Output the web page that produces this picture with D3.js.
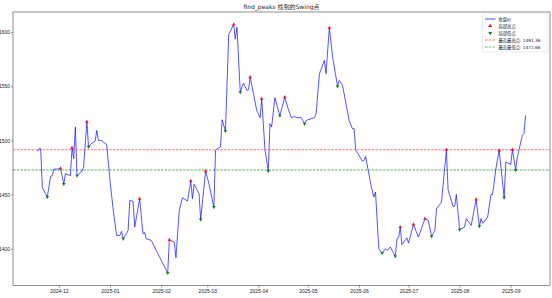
<!DOCTYPE html>
<html>
<head>
<meta charset="utf-8">
<script src="https://cdn.jsdelivr.net/npm/d3@7"></script>
<style>
  body { margin: 0; background: #fff; }
  svg { display: block; font-family: "DejaVu Sans", "Noto Sans CJK SC", sans-serif; }
</style>
</head>
<body>
<svg id="chart" width="552" height="298"></svg>
<script>
// closing prices (vertices)
const dates = [
  "2024-11-18","2024-11-19","2024-11-20","2024-11-21","2024-11-24","2024-11-26","2024-11-27","2024-11-28","2024-11-30",
  "2024-12-02","2024-12-04","2024-12-05","2024-12-06","2024-12-08","2024-12-09","2024-12-10","2024-12-11","2024-12-12",
  "2024-12-15","2024-12-16","2024-12-18","2024-12-19","2024-12-21","2024-12-23","2024-12-24","2024-12-25","2024-12-27",
  "2024-12-28","2024-12-30","2025-01-01","2025-01-03","2025-01-05","2025-01-07","2025-01-08","2025-01-09","2025-01-11",
  "2025-01-12","2025-01-13","2025-01-15","2025-01-16","2025-01-19","2025-01-21","2025-01-22","2025-01-23","2025-01-26",
  "2025-02-05","2025-02-06","2025-02-09","2025-02-10","2025-02-12","2025-02-14","2025-02-17","2025-02-19","2025-02-20",
  "2025-02-21","2025-02-24","2025-02-25","2025-02-28","2025-03-02","2025-03-05","2025-03-06","2025-03-07","2025-03-09",
  "2025-03-10","2025-03-12","2025-03-14","2025-03-17","2025-03-18","2025-03-19","2025-03-21","2025-03-22","2025-03-23",
  "2025-03-25","2025-03-26","2025-03-27","2025-03-29","2025-03-31","2025-04-02","2025-04-03","2025-04-05","2025-04-07",
  "2025-04-08","2025-04-09","2025-04-11","2025-04-13","2025-04-14","2025-04-15","2025-04-17","2025-04-19","2025-04-21",
  "2025-04-23","2025-04-24","2025-04-27","2025-04-29","2025-04-30","2025-05-05","2025-05-06","2025-05-08","2025-05-11",
  "2025-05-12","2025-05-14","2025-05-16","2025-05-19","2025-05-20","2025-05-22","2025-05-26","2025-05-28","2025-05-29",
  "2025-05-30","2025-06-03","2025-06-04","2025-06-05","2025-06-08","2025-06-10","2025-06-11","2025-06-13","2025-06-15",
  "2025-06-17","2025-06-18","2025-06-20","2025-06-23","2025-06-24","2025-06-25","2025-06-26","2025-06-27","2025-06-30",
  "2025-07-01","2025-07-04","2025-07-07","2025-07-11","2025-07-13","2025-07-15","2025-07-17","2025-07-18","2025-07-21",
  "2025-07-24","2025-07-25","2025-07-28","2025-07-29","2025-07-30","2025-08-01","2025-08-04","2025-08-05","2025-08-08",
  "2025-08-11","2025-08-13","2025-08-14","2025-08-15","2025-08-18","2025-08-20","2025-08-21","2025-08-23","2025-08-25",
  "2025-08-28","2025-08-29","2025-09-01","2025-09-02","2025-09-04","2025-09-05","2025-09-08","2025-09-09","2025-09-10"
];
const closes = [
  1489.8,1492.3,1492.3,1456.3,1447.7,1466.8,1467.4,1473.5,1473.5,
  1474.1,1459.7,1469.3,1468.6,1467.4,1493.3,1483.1,1512.3,1467.4,
  1471.7,1475.3,1517.3,1494.0,1497.5,1499.4,1509.2,1500.0,1500.0,
  1498.2,1496.3,1463.1,1435.4,1412.3,1412.3,1416.0,1409.2,1413.9,
  1416.9,1444.6,1443.7,1420.0,1446.2,1413.9,1415.0,1409.2,1407.7,
  1377.5,1408.2,1406.1,1391.7,1435.4,1447.1,1444.0,1462.5,1446.2,
  1459.4,1450.8,1426.8,1471.7,1460.0,1438.4,1490.8,1492.3,1494.0,
  1519.1,1508.6,1597.9,1607.1,1593.5,1604.6,1544.3,1549.2,1552.9,
  1546.2,1546.8,1558.4,1543.1,1527.7,1521.0,1538.5,1490.8,1471.7,
  1515.4,1512.3,1539.4,1528.3,1522.8,1528.3,1540.0,1529.2,1521.0,
  1522.2,1521.0,1521.0,1515.4,1518.5,1521.0,1524.7,1561.6,1573.9,
  1561.6,1604.0,1576.9,1549.9,1555.4,1550.8,1518.5,1510.8,1510.8,
  1491.4,1480.9,1481.5,1485.2,1460.6,1447.6,1452.3,1400.0,1395.9,
  1400.0,1398.4,1401.5,1392.9,1409.2,1410.1,1420.0,1403.7,1410.1,
  1405.2,1422.4,1410.7,1427.7,1426.1,1411.4,1416.9,1436.9,1443.0,
  1491.4,1454.5,1439.1,1439.1,1450.1,1417.6,1420.0,1427.7,1421.5,
  1445.5,1420.6,1427.7,1423.5,1429.2,1450.1,1450.1,1473.9,1490.8,
  1447.1,1480.0,1477.8,1491.36,1472.66,1484.6,1504.6,1506.2,1523.1
];
const peakDates = [
  "2024-12-02","2024-12-09","2024-12-18","2025-01-19","2025-02-06","2025-02-19","2025-02-28",
  "2025-03-17","2025-03-27","2025-04-03","2025-04-17","2025-05-14","2025-06-26","2025-07-04",
  "2025-07-11","2025-07-24","2025-08-11","2025-08-25","2025-09-02"
];
const troughDates = [
  "2024-11-24","2024-12-04","2024-12-12","2024-12-19","2025-01-09","2025-02-05","2025-02-25",
  "2025-03-05","2025-03-12","2025-03-21","2025-04-07","2025-04-14","2025-04-29","2025-05-19",
  "2025-06-15","2025-06-23","2025-07-15","2025-08-01","2025-08-13","2025-08-28","2025-09-04"
];
const lastHigh = 1491.36;
const lastLow = 1472.66;
const yTicks = [1400, 1450, 1500, 1550, 1600];
const xTicks = ["2024-12-01","2025-01-01","2025-02-01","2025-03-01","2025-04-01",
                "2025-05-01","2025-06-01","2025-07-01","2025-08-01","2025-09-01"];

const parse = d3.timeParse("%Y-%m-%d");
const data = dates.map((d, i) => ({date: parse(d), close: closes[i]}));
const byDate = new Map(data.map(d => [+d.date, d]));
const peaks = peakDates.map(d => byDate.get(+parse(d)));
const troughs = troughDates.map(d => byDate.get(+parse(d)));

const svg = d3.select("#chart");
const margin = {top: 12, right: 2, bottom: 12.5, left: 13};
const width = +svg.attr("width") - margin.left - margin.right;
const height = +svg.attr("height") - margin.top - margin.bottom;

// matplotlib style 5% padding
const xExt = d3.extent(data, d => d.date);
const xPad = (xExt[1] - xExt[0]) * 0.05;
const x = d3.scaleTime()
  .domain([new Date(+xExt[0] - xPad), new Date(+xExt[1] + xPad)])
  .range([0, width]);
const yExt = d3.extent(data, d => d.close);
const yPad = (yExt[1] - yExt[0]) * 0.05;
const y = d3.scaleLinear()
  .domain([yExt[0] - yPad, yExt[1] + yPad])
  .range([height, 0]);

const g = svg.append("g").attr("transform", "translate(" + margin.left + "," + margin.top + ")");

// axes
const xAxis = g.append("g")
  .attr("transform", "translate(0," + height + ")")
  .call(d3.axisBottom(x).tickValues(xTicks.map(parse)).tickFormat(d3.timeFormat("%Y-%m")).tickSize(2).tickPadding(1.5));
const yAxis = g.append("g")
  .call(d3.axisLeft(y).tickValues(yTicks).tickFormat(d3.format("d")).tickSize(2).tickPadding(1));
[xAxis, yAxis].forEach(a => {
  a.select(".domain").remove();
  a.selectAll("line").attr("stroke", "#333").attr("stroke-width", 0.5);
  a.selectAll("text").attr("fill", "#222").style("font-size", "5px");
});

// reference lines
g.append("line")
  .attr("x1", 0).attr("x2", width)
  .attr("y1", y(lastHigh)).attr("y2", y(lastHigh))
  .attr("stroke", "#ff0000").attr("stroke-opacity", 0.55)
  .attr("stroke-width", 1).attr("stroke-dasharray", "2.5,1.2");
g.append("line")
  .attr("x1", 0).attr("x2", width)
  .attr("y1", y(lastLow)).attr("y2", y(lastLow))
  .attr("stroke", "#008000").attr("stroke-opacity", 0.8)
  .attr("stroke-width", 0.8).attr("stroke-dasharray", "2.5,1.2");

// price line
g.append("path")
  .datum(data)
  .attr("fill", "none")
  .attr("stroke", "#0000ff")
  .attr("stroke-opacity", 0.75)
  .attr("stroke-width", 0.9)
  .attr("stroke-linejoin", "round")
  .attr("d", d3.line().x(d => x(d.date)).y(d => y(d.close)));

const tri = d3.symbol().type(d3.symbolTriangle).size(6);
g.selectAll(".peak").data(peaks).enter().append("path")
  .attr("class", "peak")
  .attr("transform", d => "translate(" + x(d.date) + "," + y(d.close) + ")")
  .attr("d", tri)
  .attr("fill", "#ff0000").attr("fill-opacity", 0.85);
g.selectAll(".trough").data(troughs).enter().append("path")
  .attr("class", "trough")
  .attr("transform", d => "translate(" + x(d.date) + "," + y(d.close) + ") rotate(180)")
  .attr("d", tri)
  .attr("fill", "#008000").attr("fill-opacity", 0.85);

// frame
g.append("rect")
  .attr("width", width).attr("height", height)
  .attr("fill", "none").attr("stroke", "#444").attr("stroke-width", 0.6);

// title
svg.append("text")
  .attr("x", margin.left + width / 2)
  .attr("y", 8.5)
  .attr("text-anchor", "middle")
  .attr("fill", "#222")
  .style("font-size", "6px")
  .text("find_peaks 找到的Swing点");

// legend
const legendItems = [
  {label: "收盘价", kind: "line", color: "#0000ff"},
  {label: "局部高点", kind: "up", color: "#ff0000"},
  {label: "局部低点", kind: "down", color: "#008000"},
  {label: "最近最高点: " + lastHigh.toFixed(2), kind: "dash", color: "#ff0000"},
  {label: "最近最低点: " + lastLow.toFixed(2), kind: "dash", color: "#008000"}
];
const lg = svg.append("g").attr("transform", "translate(482.5,14)");
lg.append("rect")
  .attr("width", 65.5).attr("height", 38).attr("rx", 1)
  .attr("fill", "#fff").attr("fill-opacity", 0.9)
  .attr("stroke", "#d8d8d8").attr("stroke-width", 0.5);
const row = lg.selectAll(".item").data(legendItems).enter().append("g")
  .attr("class", "item")
  .attr("transform", (d, i) => "translate(0," + (5 + i * 7) + ")");
row.filter(d => d.kind === "line" || d.kind === "dash").append("line")
  .attr("x1", 2.5).attr("x2", 13)
  .attr("stroke", d => d.color)
  .attr("stroke-opacity", d => d.kind === "line" ? 0.75 : 0.7)
  .attr("stroke-width", d => d.kind === "line" ? 1 : 0.8)
  .attr("stroke-dasharray", d => d.kind === "dash" ? "2.5,1.2" : null);
row.filter(d => d.kind === "up" || d.kind === "down").append("path")
  .attr("transform", d => "translate(7.7,0)" + (d.kind === "down" ? " rotate(180)" : ""))
  .attr("d", tri)
  .attr("fill", d => d.color);
row.append("text")
  .attr("x", 16)
  .attr("dy", "0.35em")
  .attr("fill", "#222")
  .style("font-size", "4.3px")
  .text(d => d.label);
</script>
</body>
</html>
